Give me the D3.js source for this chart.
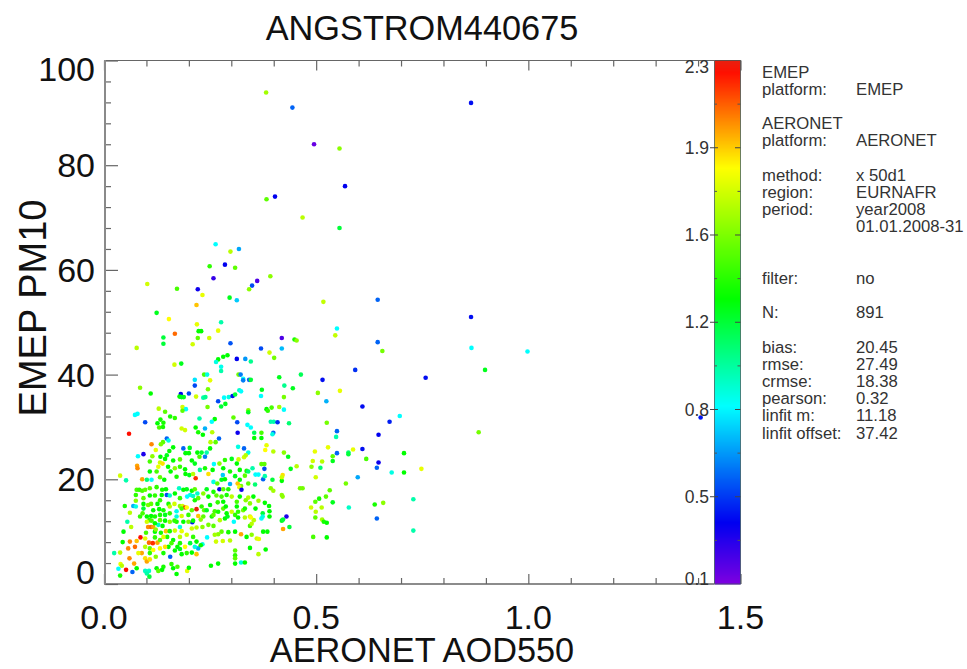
<!DOCTYPE html>
<html>
<head>
<meta charset="utf-8">
<style>
  html, body { margin: 0; background: #fff; }
  text { font-family: "Liberation Sans", Arial, sans-serif; }
</style>
<script src="https://cdn.jsdelivr.net/npm/d3@7"></script>
</head>
<body>
<svg id="chart" width="967" height="669"></svg>
<script>
// each point: [AERONET AOD550, EMEP PM10, angstrom]
const pointsHigh = [
  [.865,91.9,.38],[.495,84,.15],[.555,83.2,1.6],[.568,76,.35],[.468,70,1.7],[.555,68,1.2],[.517,53.9,1.72],[.645,54.3,.55],
  [.549,48.8,.85],[.545,47.5,1.72],[.645,46.2,.55],[.656,44.5,1.55],[.865,51,.38],[.866,45.1,.85],[.998,44.4,.85],[.898,40.9,1.25],
  [.758,39.4,.38],[.464,40,1.15],[.592,40.9,.45],[.515,39,.38],[.382,93.9,1.65],[.444,91,.55],[.383,73.5,1.5],[.403,74,.35],
  [.263,64.9,.85],[.298,63.5,1.7],[.318,64,.68],[.249,60.7,1.4],[.285,61,.35],[.309,60.4,1.5],[.258,58.4,.25],[.361,57.9,.2],
  [.349,57,.5],[.342,56.3,1.6],[.392,58.8,1.6],[.102,57.3,1.75],[.172,56.4,1.45],[.221,56.3,.33],[.232,55.2,1.8],[.218,53.3,1.95],
  [.296,54.7,1.25],[.313,54.2,.75],[.124,51.8,1.25],[.153,50.6,1.85],[.219,49.6,1.8],[.276,50,1],[.223,48.3,1.3],[.229,48.3,1.3],
  [.269,48.4,1.8],[.167,47.8,2.1],[.14,47.1,1.2],[.221,47,1.5],[.248,47,1.75],[.419,47,.2],[.449,46.7,1.35],[.454,46.5,1.6],
  [.14,45.9,1.2],[.209,45.8,1.75],[.298,46,.52],[.077,45.1,1.7],[.37,45,.5],[.419,45,.72],[.39,44.2,1.75],[.401,43.2,1.55],
  [.291,43.7,1.3],[.281,43.4,1.3],[.269,42.9,1.3],[.264,42.4,.9],[.313,43,.35],[.333,43,.65],[.346,42.5,1.05],[.166,41.9,1.75],
  [.182,42.1,1.25],[.276,41.5,.88],[.276,40.7,1],[.236,40,1.45],[.243,40,.9],[.317,40,1.55],[.322,40,.6],[.413,39.5,1.25],
  [.214,39,.8],[.25,38.9,1.8],[.328,39.2,.85],[.328,38.9,.6],[.342,39,.55],[.346,39,1.2],[.425,37.9,1.05],[.214,37.9,.5],
  [.085,37.5,1.6],[.245,37.2,1.55],[.372,37.1,1.25],[.445,37.4,1.25],[.319,37,.95],[.323,36.8,.85],[.11,36.4,1.3],[.181,36.3,.35],
  [.2,36.4,.5],[.178,35.8,1.3],[.183,35.7,1.25],[.188,35.7,1.25],[.217,35.8,1.75],[.234,35.6,1],[.239,35.7,1.05],[.283,35.6,.85],
  [.294,35.7,.9],[.303,35.9,.38],[.309,36.2,1.2],[.37,35.9,.85],[.424,35.7,1.55],[.556,36.9,1.8],[.504,36.5,1.6],[.524,34.9,.7],
  [.609,33.9,.38],[1.406,31.8,.4]
];
const pointsMid = [
  [.269,34.9,.5],[.286,34.4,1.25],[.276,33.9,1.2],[.244,33.8,1.55],[.185,33.8,1.75],[.129,33.5,1.7],[.193,33.4,.85],[.395,33.7,1.45],
  [.413,33.8,1.65],[.383,33.4,1.3],[.424,33.3,.85],[.34,33.2,1.6],[.185,33.1,1.5],[.144,32.9,1.5],[.079,32.5,.85],[.073,32.3,.85],
  [.156,32,1.35],[.167,31.7,1.4],[.225,31.6,1],[.261,31.5,1.3],[.254,31,.85],[.305,31.8,1.5],[.34,32.8,1.25],[.386,33.1,1.4],
  [.314,30.9,.5],[.338,30.4,.85],[.346,29.9,.85],[.393,31,1],[.4,31,1],[.409,30.9,.45],[.436,30.7,1.1],[.097,30.9,.5],
  [.126,30.7,1.3],[.133,31.4,1.35],[.14,30.8,1.35],[.13,29.9,1.45],[.139,30,1.35],[.216,29.9,1.3],[.238,29.7,.7],[.183,29.7,1.75],
  [.191,29.4,1.75],[.222,29,1.35],[.233,28.5,1.3],[.255,29,1.7],[.059,28.7,2.25],[.315,28.9,.33],[.354,28.9,1.15],[.371,28.9,1.45],
  [.371,27.9,1.3],[.354,27.9,1.3],[.399,28.9,.55],[.397,28.6,.9],[.148,27.8,.55],[.152,27.4,.9],[.271,27.8,.55],[.263,27.1,1.5],
  [.251,27.1,1.7],[.139,27.1,1.5],[.134,26.7,1.55],[.112,26.7,2.05],[.163,26.1,1.3],[.187,25.9,.55],[.202,26,1.25],[.316,26.2,.9],
  [.33,25.9,.55],[.34,25.1,.9],[.383,26.5,1.8],[.38,25.6,1.85],[.399,25.3,1.7],[.424,25.1,1.6],[.434,24.3,1.25],[.122,25.6,1.8],
  [.154,25.4,1.3],[.093,24.8,.3],[.08,24.4,.85],[.148,24.6,1.25],[.192,25,1.3],[.2,25,1.3],[.22,25.1,1.3],[.23,25.1,1.2],
  [.242,25.1,1],[.238,24.3,.6],[.225,24.3,1.45],[.25,25.9,1.3],[.114,24.4,1.6],[.133,24.3,1.3],[.179,23.8,1.5],[.163,23.6,1.3],
  [.144,23.9,1.3],[.207,23.6,1.3],[.214,23,1.25],[.078,22.6,2],[.079,22.1,2.05],[.108,23.4,1.45],[.132,23.2,1.75],[.138,23,1.9],
  [.128,22.4,1.8],[.285,23.7,1.4],[.272,23,1.6],[.259,22.9,.85],[.301,23.9,1.25],[.33,24.2,1.75],[.317,23.8,1.75],[.334,24.6,1.7],
  [.35,22.1,1],[.371,22.9,1.5],[.378,22.9,1.5],[.378,22,.5],[.44,22,1.25],[.454,22.5,1.7],[.179,22.4,1.4],[.151,22.4,1.3],
  [.167,22.1,1.6],[.256,21.8,1.3],[.313,23,1.3],
  [.497,25.3,1.8],[.528,26.1,1.8],[.549,29.2,.55],[.547,28.1,1],[.647,28.5,.35],[.883,29,1.55],[.549,25,.55],[.576,25.1,1.1],
  [.576,24.8,1.2],[.587,25.7,1.8],[.609,25.8,.38],[.707,25,1.3],[.539,24.4,1.5],[.539,23.5,1.25],[.492,23.5,1.75],[.514,23.4,1.7],
  [.618,23.9,1.45],[.647,23.2,.33],[.489,22.4,1.6],[.51,22.2,1.1],[.643,22.2,.55],[.748,22,1.8],[.697,32.1,.85],[.673,31,.42],
  [.525,30.8,1.55]
];
const pointsLow = [
  [.678,21.3,.9],[.707,21.3,1.3],[.499,20.4,1.75],[.598,20.4,.68],[.57,19.2,1.55],[.468,18.3,1.55],[.462,18.3,1.55],[.532,17.9,1.5],
  [.523,16.7,1.5],[.507,16.3,1.35],[.498,15.7,1.5],[.539,15.6,1.25],[.729,16.2,1],[.638,15.2,1.35],[.658,15.5,1.6],[.488,14.6,1.75],
  [.513,14.6,1.7],[.577,14.6,.95],[.499,13.8,1.7],[.498,12.7,1.5],[.643,12.5,.55],[.514,12.3,1.65],[.518,11.9,1.35],[.525,11.7,1.3],
  [.729,10.2,1],[.493,9,1.45],[.525,8.9,1.3],
  [.038,20.7,1.75],[.052,19.8,1],[.09,20,2],[.101,19.9,1.1],[.112,19.9,.85],[.157,21.5,1.3],[.142,19.9,1.3],[.132,20.4,1.5],
  [.171,20.5,1.35],[.191,21.9,1.3],[.192,21,1.3],[.201,20.8,1.25],[.216,20.2,2.2],[.21,21,1.7],[.226,21.8,1.05],[.238,22.1,1.35],
  [.246,21,1.9],[.28,20.8,.75],[.281,22.1,1.3],[.32,21.8,1.3],[.309,20.6,1.25],[.357,20.9,.85],[.364,20.9,.85],[.375,20,.55],
  [.379,20.6,1],[.397,19.9,1.2],[.419,19.7,1.3],[.421,20.8,1.9],[.419,20.4,1.75],[.332,20.7,1.5],[.336,21.6,1.35],[.258,19.5,.9],
  [.267,19.2,1.5],[.277,19.9,1.25],[.285,20,1.3],[.297,19.1,.7],[.315,19.2,1.95],[.32,19.9,1.3],[.323,18.7,1.55],[.319,18.5,1.8],
  [.356,19,1.1],[.34,19.2,1.5],[.393,18.3,1.6],[.399,17.8,1.65],[.419,17,1.6],[.421,16.7,1.6],
  [.077,18,1.45],[.083,18,1.4],[.09,17.8,1.45],[.097,18,1.5],[.075,17,1.4],[.137,18,1.35],[.146,18.1,1.3],[.177,18.3,.95],
  [.167,17.3,1.3],[.195,18.1,1.25],[.207,17.8,1.3],[.214,18.1,1.5],[.22,17.3,.95],[.242,18.1,1.25],[.272,18.1,.33],[.324,18,.33],
  [.293,18.1,1.35],[.281,18.1,1.5],[.148,17,.5],[.136,17,1.3],[.155,16.9,.95],[.108,16.9,1.3],[.12,16.9,1.4],[.093,16.4,1.5],
  [.075,15.9,1.6],[.203,17,.9],[.196,16.7,.85],[.21,16.8,.95],[.222,16.4,1.5],[.246,16.7,1.3],[.265,16.9,1.5],[.277,16.7,1.45],
  [.289,17,1.35],[.34,16.5,1.7],[.364,15.9,1.65],[.379,15.5,1.3],[.281,15.7,1.3],[.268,15.6,1.4],[.32,16.7,1.3],[.313,15.7,1.45],
  [.334,16,1.6],[.108,21.5,1.3],[.124,21.5,1.45],[.297,21.5,1.35],[.34,21.5,1.1],[.179,16.4,1.4],[.187,18,1.3],[.124,18.5,1.4],
  [.108,18.3,1.5],[.234,17.3,1.6],[.258,17.6,1.35],[.301,16.7,1.7],[.352,16.7,1.3],[.214,16,1.35],[.132,16,1.4],[.104,15.1,1.55]
];
const pointsDense = [
  [.049,14.9,1.35],[.069,14.9,.7],[.075,14.8,.9],[.093,15.3,1.3],[.093,14.4,1.2],[.111,15.3,1.5],[.126,15.3,1.3],[.152,15.3,1.35],
  [.166,15.3,1.75],[.179,14.9,1.6],[.185,14.9,1.75],[.191,14.6,2.2],[.195,14.6,1.85],[.218,14.3,2.3],[.207,14.1,1.5],[.183,14.4,1.45],
  [.13,14.3,1.3],[.14,14.1,1.35],[.116,14.1,1.3],[.171,13.9,.88],[.23,14.8,1.4],[.236,14.1,1.5],[.25,15.1,1.3],[.242,14.1,1.25],
  [.261,13.9,1.45],[.269,13.8,1.35],[.281,14.4,1.5],[.287,14.8,1.3],[.313,14.8,1.3],[.316,13.8,1.4],[.328,14.1,1.55],[.344,15.4,1.6],
  [.332,14.4,1.35],[.357,14.4,1.3],[.374,13.5,1.2],[.389,14.9,1.3],[.39,13.9,1.3],[.39,12.9,1.3],[.43,12.9,.3],[.419,12.1,1.25],
  [.422,12.3,1.2],[.371,12.5,.85],[.374,12.9,.9],[.344,12.9,1.75],[.353,12.2,1.7],[.061,13.6,1.7],[.091,13.5,1.45],[.111,13,1.3],
  [.107,12.2,1.4],[.132,13.2,1.35],[.144,13.2,1.25],[.155,13.5,1.4],[.171,12.9,.9],[.183,13,1.75],[.199,13.2,1.4],[.222,13,1.95],
  [.234,12.9,1.5],[.228,12.3,1.6],[.246,11.3,1.55],[.055,11.9,1],[.064,10.9,1.7],[.208,11.8,.4],[.21,12.1,1.3],[.179,10.9,.9],
  [.171,11.9,1.35],[.104,10.9,2.05],[.111,10.9,2.1],[.116,10.9,2],[.128,11.3,.95],[.138,11.1,1.3],[.146,10.1,1.95],[.155,10.1,1.35],
  [.046,10,1.3],[.099,9.8,1.45],[.12,10,1.3],[.134,9.8,1.35],[.167,10.2,1.75],[.183,10.1,1.8],[.207,10.6,1.75],[.218,10.8,1.7],
  [.232,10.9,1.6],[.258,11.1,1.5],[.306,11.9,.85],[.285,12.5,1.3],[.291,12.9,1.25],[.316,12.7,1.3],[.332,12.7,1.7],[.346,12.7,1.85],
  [.344,11.1,1.45],[.348,11.5,1.7],[.437,10.9,1.2],[.422,10.5,2],[.323,9.5,2],[.309,10,1.3],[.293,9.9,1.35],[.269,9.5,1.6],
  [.277,10,1.5],[.261,9.4,1.65],[.336,9,1.3],[.348,9.4,1.6],[.36,8.7,1.75],[.365,8.6,1.8],[.375,10,1.3],[.385,10,1.3],
  [.155,14.8,1.7],[.289,13.5,1.3],[.254,12.9,1.35],[.273,12.2,1.7],[.258,13.2,1.5],[.301,13.8,1.75],[.309,13.2,1.4],
  [.085,12.9,1.4],[.101,12.9,1.3],[.112,12.1,1.45],[.12,11.6,1.3],[.132,12.2,1.5],[.144,12.1,1.3],[.155,11.9,1.6],[.166,12.1,1.4],
  [.187,11.9,1.3],[.199,11.9,1.55],[.101,11.9,1.75],[.12,12.9,1.35],[.122,10.4,1.6]
];
const pointsBottom = [
  [.086,8.9,2.25],[.077,8.2,1.95],[.097,8.7,1.8],[.106,7.9,2.1],[.115,7.8,2.2],[.126,7.9,2],[.061,8.1,2.05],[.044,8,1.3],
  [.149,9,1.35],[.152,7.1,1.3],[.243,8.9,.85],[.232,7.6,.9],[.222,6.8,.7],[.264,8.1,1.75],[.28,8.2,1.75],[.297,8.3,1.7],
  [.344,6.9,1.3],[.381,6.6,1.3],[.309,6.4,1.5],[.309,5.5,1.4],[.309,4.9,1.5],[.309,3.9,1.3],[.364,5.7,1.7],[.323,4.1,.9],
  [.332,4.1,1.3],[.057,6.8,2.05],[.073,7.1,2.1],[.089,5.9,2],[.097,7.1,1.7],[.108,6.8,1.5],[.116,6.5,1.85],[.108,5.9,1.4],
  [.144,7.1,1.9],[.14,5.9,1.35],[.156,5.2,.55],[.173,7.1,1.3],[.179,6.7,1.25],[.195,5.9,1.4],[.207,6,1.3],[.218,5.7,1.95],
  [.228,7.4,1.3],[.024,5.9,1],[.038,6,1.7],[.06,4.9,2.05],[.097,4.9,1.9],[.101,4.3,2],[.071,3.9,2],[.039,3.8,1.8],
  [.042,3.5,1.7],[.034,2.9,.85],[.052,2.7,2.25],[.067,2.3,.55],[.077,3,1.3],[.038,1.6,1.35],[.097,2.5,.95],[.106,2.5,.95],
  [.101,2,1],[.107,1.4,1.2],[.124,3,1.3],[.128,2.5,1.5],[.14,3.3,1.35],[.137,2.7,1.3],[.163,3,1.3],[.159,3.8,1.4],
  [.173,3.3,1.45],[.171,1.9,1.3],[.196,2.5,1.8],[.2,3.1,1.3],[.252,3.5,1.3],[.269,3.9,1.3],
  [.14,9,1.8],[.163,8.4,1.3],[.179,9,1.7],[.195,9.4,1.75],[.21,9,1.4],[.218,8.1,1.3],[.179,7.8,1.35],[.191,7.1,1.85],
  [.159,7.8,1.45],[.132,8.4,1.5],[.12,8.9,1.4],[.167,6.4,1.3],[.183,5.7,1.3],[.203,7.8,1.2],[.214,7.1,.9],[.132,6.8,1.85],
  [.122,5.2,1.6],[.108,4.7,1.9],[.081,5.9,1.8]
];
const allPoints = [...pointsHigh, ...pointsMid, ...pointsLow, ...pointsDense, ...pointsBottom];

const xMajor = [0, 0.5, 1.0, 1.5];
const xMinor = [0.1, 0.2, 0.3, 0.4, 0.6, 0.7, 0.8, 0.9, 1.1, 1.2, 1.3, 1.4];
const yMajor = [0, 20, 40, 60, 80, 100];
const yMinor = d3.range(4, 100, 4).filter(d => d % 20 !== 0);
const yLabels = ["0", "20", "40", "60", "80", "100"];
const yLabelShift = [-12, 0, 0, 0, 0, 8];

const cbarDomain = [0.1, 2.3];
const cbarTicks = [0.1, 0.4667, 0.8333, 1.2, 1.5667, 1.9333, 2.3];
const cbarLabels = ["0.1", "0.5", "0.8", "1.2", "1.6", "1.9", "2.3"];
const cbarLabelShift = [-5, 0, 0, 0, 0, 0, 6];
const colourStops = [0.1, 0.36, 0.85, 1.3, 1.85, 2.25, 2.3];
const colourValues = ["#7f00e0", "#0000f0", "#00ffff", "#00ff00", "#ffff00", "#ff1000", "#e82010"];

const statLabels = [
  ["EMEP", ""], ["platform:", "EMEP"], ["AERONET", ""], ["platform:", "AERONET"],
  ["method:", "x 50d1"], ["region:", "EURNAFR"], ["period:", "year2008"], ["", "01.01.2008-31"],
  ["filter:", "no"], ["N:", "891"], ["bias:", "20.45"], ["rmse:", "27.49"], ["crmse:", "18.38"],
  ["pearson:", "0.32"], ["linfit m:", "11.18"], ["linfit offset:", "37.42"]
];
const statRows = [0, 1, 3, 4, 6, 7, 8, 9, 12, 14, 16, 17, 18, 19, 20, 21];

const svg = d3.select("#chart");

const x = d3.scaleLinear().domain([0, 1.5]).range([104, 740.5]);
const y = d3.scaleLinear().domain([0, 100]).range([584, 60.5]);
const cy = d3.scaleLinear().domain(cbarDomain).range([584, 60.5]);
const colour = d3.scaleLinear().domain(colourStops).range(colourValues).clamp(true);

const defs = svg.append("defs");
defs.append("filter").attr("id", "soft")
    .attr("x", "-5%").attr("y", "-5%").attr("width", "110%").attr("height", "110%")
    .append("feGaussianBlur").attr("stdDeviation", 0.45);

// axis frame, d3 axes with ticks turned inwards
function tickAxis(axis, values, size, tx, ty) {
    let g = svg.append("g").attr("transform", "translate(" + tx + "," + ty + ")")
        .call(axis.tickValues(values).tickSize(size).tickFormat(""));
    g.selectAll("path").attr("stroke", "none");
    g.selectAll("line").attr("stroke", "#666").attr("stroke-width", 1.2);
    return g;
}
tickAxis(d3.axisBottom(x), xMajor, -10, 0, 584);
tickAxis(d3.axisBottom(x), xMinor, -6, 0, 584);
tickAxis(d3.axisTop(x), xMajor, -10, 0, 60.5);
tickAxis(d3.axisTop(x), xMinor, -6, 0, 60.5);
tickAxis(d3.axisLeft(y), yMajor, -13, 105, 0);
tickAxis(d3.axisLeft(y), yMinor, -6, 105, 0);

svg.append("line").attr("x1", 104).attr("x2", 714).attr("y1", 584).attr("y2", 584).attr("stroke", "#666").attr("stroke-width", 1.4);
svg.append("line").attr("x1", 104).attr("x2", 714).attr("y1", 60.5).attr("y2", 60.5).attr("stroke", "#666").attr("stroke-width", 1.2);
svg.append("line").attr("x1", 105).attr("x2", 105).attr("y1", 60).attr("y2", 584.5).attr("stroke", "#8a8a8a").attr("stroke-width", 2);

// points
svg.append("g").attr("filter", "url(#soft)")
    .selectAll("circle")
    .data(allPoints)
    .enter()
    .append("circle")
    .attr("cx", d => x(d[0]))
    .attr("cy", d => y(d[1]))
    .attr("r", 2.3)
    .attr("fill", d => colour(d[2]));

// colour bar
const cbarSteps = d3.range(584, 60, -1);
svg.append("g").selectAll("rect")
    .data(cbarSteps)
    .enter()
    .append("rect")
    .attr("x", 714.5).attr("width", 26)
    .attr("y", d => d - 1).attr("height", 1.5)
    .attr("fill", d => colour(cy.invert(d - 0.5)));
svg.append("rect").attr("x", 714.5).attr("y", 60.5).attr("width", 26).attr("height", 523.5)
    .attr("fill", "none").attr("stroke", "#3a5a5a").attr("stroke-opacity", 0.75).attr("stroke-width", 1);

const cbarMinor = d3.pairs(cbarTicks).map(d => (d[0] + d[1]) / 2);
svg.append("g").selectAll("line").data(cbarTicks.slice(1, -1)).enter().append("line")
    .attr("x1", 710).attr("x2", 718).attr("y1", d => cy(d)).attr("y2", d => cy(d)).attr("stroke", "#444");
svg.append("g").selectAll("line").data(cbarTicks.slice(1, -1)).enter().append("line")
    .attr("x1", 735).attr("x2", 740.5).attr("y1", d => cy(d)).attr("y2", d => cy(d)).attr("stroke", "#444");
svg.append("g").selectAll("line").data(cbarMinor).enter().append("line")
    .attr("x1", 714.5).attr("x2", 717).attr("y1", d => cy(d)).attr("y2", d => cy(d)).attr("stroke", "#555");
svg.append("g").selectAll("line").data(cbarMinor).enter().append("line")
    .attr("x1", 737.5).attr("x2", 740.5).attr("y1", d => cy(d)).attr("y2", d => cy(d)).attr("stroke", "#555");

svg.append("g").selectAll("text").data(cbarTicks).enter().append("text")
    .attr("x", 709)
    .attr("y", (d, i) => cy(d) + cbarLabelShift[i] + 6)
    .attr("text-anchor", "end")
    .attr("font-size", 17.5)
    .attr("fill", "#333")
    .text((d, i) => cbarLabels[i]);

// tick labels
svg.append("g").selectAll("text").data(xMajor).enter().append("text")
    .attr("x", d => x(d))
    .attr("y", 629)
    .attr("text-anchor", "middle")
    .attr("font-size", 34)
    .attr("fill", "#111")
    .text(d => d.toFixed(1));

svg.append("g").selectAll("text").data(yMajor).enter().append("text")
    .attr("x", 95)
    .attr("y", (d, i) => y(d) + yLabelShift[i] + 12)
    .attr("text-anchor", "end")
    .attr("font-size", 34)
    .attr("fill", "#111")
    .text((d, i) => yLabels[i]);

// titles
svg.append("text").attr("x", 422).attr("y", 40).attr("text-anchor", "middle")
    .attr("font-size", 34.3).attr("fill", "#111").text("ANGSTROM440675");
svg.append("text").attr("x", 422).attr("y", 662).attr("text-anchor", "middle")
    .attr("font-size", 34.3).attr("fill", "#111").text("AERONET AOD550");
svg.append("text").attr("transform", "translate(46,308) rotate(-90)").attr("text-anchor", "middle")
    .attr("font-size", 38).attr("fill", "#111").text("EMEP PM10");

// stats block on the right
const statY = d3.scaleLinear().domain([0, 21]).range([77.5, 438.5]);
const stats = svg.append("g").attr("font-size", 16.7).attr("fill", "#333");
stats.selectAll("text.key").data(statLabels).enter().append("text")
    .attr("class", "key").attr("x", 762)
    .attr("y", (d, i) => statY(statRows[i]))
    .text(d => d[0]);
stats.selectAll("text.val").data(statLabels).enter().append("text")
    .attr("class", "val").attr("x", 856)
    .attr("y", (d, i) => statY(statRows[i]))
    .text(d => d[1]);
</script>
</body>
</html>
